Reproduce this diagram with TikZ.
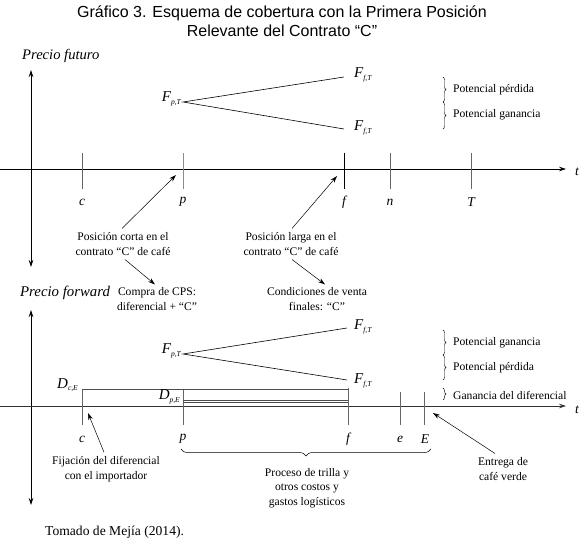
\documentclass[tikz,border=0pt]{standalone}
\usepackage{fontspec}
\setmainfont{Liberation Serif}
\newfontfamily\arialf{Liberation Sans}
\usetikzlibrary{arrows.meta,decorations.pathreplacing}
\newcommand{\Fs}[2]{{\fontsize{15}{16}\selectfont\itshape #1}\raisebox{-0.55ex}{\fontsize{7.5}{8}\selectfont\itshape #2}}
\begin{document}
\begin{tikzpicture}[x=1pt,y=-1pt,
  >={Stealth[length=7pt,width=4.5pt]},
  axis/.style={line width=0.7pt},
  tickm/.style={line width=0.7pt, black!60},
  lbl/.style={font=\fontsize{11.6}{14.5}\selectfont, align=center, inner sep=0pt},
  var/.style={font=\fontsize{13.5}{14}\selectfont\itshape, inner sep=0pt},
  ptr/.style={line width=0.5pt, ->},
  fline/.style={line width=0.6pt},
  br/.style={decorate, decoration={brace, amplitude=3pt}, line width=0.4pt}
]
\useasboundingbox (0,0) rectangle (580,545);
% title
\node[font=\arialf\fontsize{16}{19}\selectfont, align=center] (title) at (282,21) {Gráfico 3. Esquema de cobertura con la Primera Posición\\Relevante del Contrato “C”};
% ---------- upper panel ----------
\node[font=\fontsize{14.6}{15}\selectfont\itshape, inner sep=0pt, anchor=west] (pfut) at (22,56) {Precio futuro};
\coordinate (v1t) at (31,70);
\coordinate (v1b) at (31,267);
\draw[axis, <->] (v1t) -- (v1b);
\coordinate (h1l) at (0,169);
\coordinate (h1r) at (566,169);
\draw[axis, ->] (h1l) -- (h1r);
\node[var] (t1) at (577,172) {t};
% ticks
\draw[tickm] (82,153) -- (82,189);
\draw[tickm, black!45] (183,153) -- (183,189);
\draw[tickm, black] (344,153) -- (344,189);
\draw[tickm] (390,153) -- (390,189);
\draw[tickm] (471,153) -- (471,189);
\node[var] (c1) at (82,202) {c};
\node[var] (p1) at (183,202) {p};
\node[var] (f1) at (344,202) {f};
\node[var] (n1) at (390,202) {n};
\node[var] (T1) at (471,202) {T};
% F lines
\coordinate (vx1) at (183,102);
\coordinate (up1) at (344,77);
\coordinate (lo1) at (344,129);
\draw[fline] (up1) -- (vx1) -- (lo1);
\node[inner sep=0pt, anchor=east] (Fpt1) at (181,99) {\Fs{F}{p,T}};
\node[inner sep=0pt, anchor=west] (Fft1) at (354,75) {\Fs{F}{f,T}};
\node[inner sep=0pt, anchor=west] (Fft1b) at (354,128) {\Fs{F}{f,T}};
% braces
\draw[br] (443,77) -- (443,102);
\draw[br] (443,102) -- (443,129);
\node[lbl, anchor=west] (pp1) at (453,90) {Potencial pérdida};
\node[lbl, anchor=west] (pg1) at (453,115) {Potencial ganancia};
% pointers
\node[lbl] (corta) at (123,244) {Posición corta en el\\contrato “C” de café};
\node[lbl] (larga) at (291,244) {Posición larga en el\\contrato “C” de café};
\node[lbl] (compra) at (157,299) {Compra de CPS:\\diferencial + “C”};
\node[lbl] (cond) at (317,299) {Condiciones de venta\\finales: “C”};
\coordinate (pa) at (176,175);
\coordinate (fa) at (337,176);
\draw[ptr] ([xshift=-1pt,yshift=4pt]corta.north) -- (pa);
\draw[ptr] ([xshift=1pt,yshift=4pt]larga.north) -- (fa);
\draw[ptr] ([xshift=2pt,yshift=-4pt]corta.south) -- ([xshift=-2pt,yshift=3pt]compra.north);
\draw[ptr] ([xshift=1pt,yshift=-4pt]larga.south) -- ([xshift=8pt,yshift=3pt]cond.north);
% ---------- lower panel ----------
\node[font=\fontsize{14.8}{15}\selectfont\itshape, inner sep=0pt, anchor=west] (pfor) at (20,293) {Precio forward};
\coordinate (v2t) at (31,310);
\coordinate (v2b) at (31,505);
\draw[axis, <->] (v2t) -- (v2b);
\coordinate (h2l) at (0,406);
\coordinate (h2r) at (566,406);
\draw[axis, black!80, ->] (h2l) -- (h2r);
\node[var] (t2) at (577,410) {t};
\draw[tickm] (82,390) -- (82,425);
\draw[tickm] (183,390) -- (183,425);
\draw[tickm] (348,388) -- (348,425);
\draw[tickm] (400,392) -- (400,425);
\draw[tickm] (424,392) -- (424,425);
\node[var] (c2) at (82,439) {c};
\node[var] (p2) at (183,439) {p};
\node[var] (f2) at (348,439) {f};
\node[var] (e2) at (400,439) {e};
\node[var] (E2) at (425,439) {E};
% D lines
\draw[fline, black!70] (82,389) -- (348,389);
\draw[fline, black!70] (183,400) -- (348,400);
\draw[fline, black!70] (183,402.6) -- (348,402.6);
\node[inner sep=0pt, anchor=east] (Dce) at (78,385) {\Fs{D}{c,E}};
\node[inner sep=0pt, anchor=east] (Dpe) at (180,397) {\Fs{D}{p,E}};
% F lines
\coordinate (vx2) at (183,354);
\coordinate (up2) at (347,328);
\coordinate (lo2) at (347,380);
\draw[fline] (up2) -- (vx2) -- (lo2);
\node[inner sep=0pt, anchor=east] (Fpt2) at (181,351) {\Fs{F}{p,T}};
\node[inner sep=0pt, anchor=west] (Fft2) at (354,327) {\Fs{F}{f,T}};
\node[inner sep=0pt, anchor=west] (Fft2b) at (354,381) {\Fs{F}{f,T}};
% braces
\draw[br] (443,330) -- (443,355);
\draw[br] (443,355) -- (443,380);
\draw[br] (443,388) -- (443,400);
\node[lbl, anchor=west] (pg2) at (453,343) {Potencial ganancia};
\node[lbl, anchor=west] (pp2) at (453,368) {Potencial pérdida};
\node[lbl, anchor=west] (gd2) at (453,395) {Ganancia del diferencial};
% bottom brace and labels
\draw[decorate, decoration={brace, amplitude=7pt}, line width=0.5pt] (431,449) -- (181,449);
\node[lbl] (proc) at (307,488) {Proceso de trilla y\\otros costos y\\gastos logísticos};
\node[lbl] (fij) at (106,469) {Fijación del diferencial\\con el importador};
\node[lbl] (ent) at (503,469) {Entrega de\\café verde};
\coordinate (ca) at (88,413);
\coordinate (Ea) at (433,413);
\draw[ptr] ([xshift=-2pt,yshift=4pt]fij.north) -- (ca);
\draw[ptr] ([xshift=-8pt,yshift=4pt]ent.north) -- (Ea);
% source
\node[font=\fontsize{13.6}{15}\selectfont, inner sep=0pt, anchor=west] (src) at (45,532) {Tomado de Mejía (2014).};
\end{tikzpicture}
\end{document}
